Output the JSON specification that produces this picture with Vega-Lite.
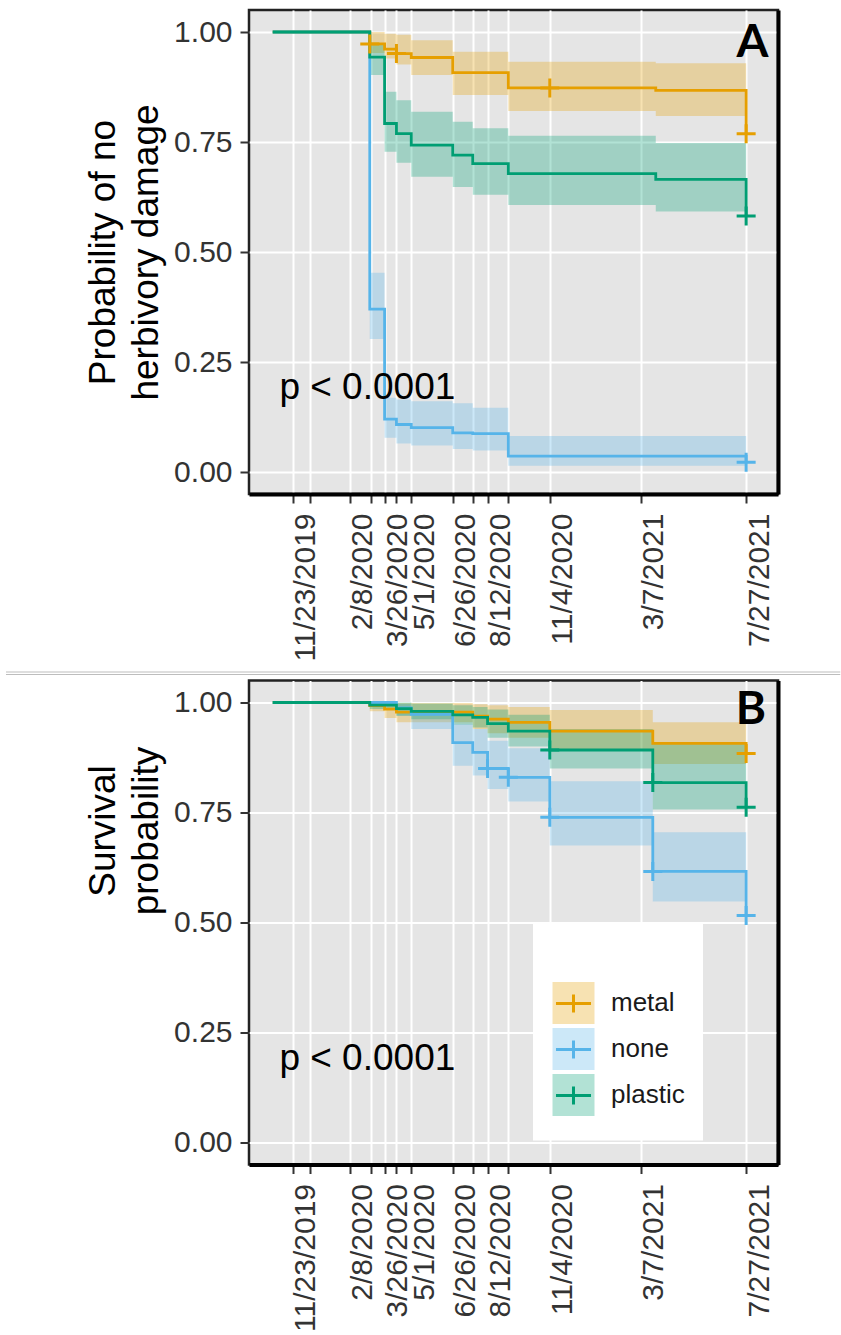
{
  "$schema": "https://vega.github.io/schema/vega-lite/v6.json",
  "background": "white",
  "padding": {"left": 4, "top": 8, "right": 0, "bottom": 0},
  "config": {
    "font": "Liberation Sans",
    "view": {"fill": "#E5E5E5", "stroke": "#222222", "strokeWidth": 2.5},
    "concat": {"spacing": 1.5},
    "axisX": {
      "labelAngle": 270, "labelAlign": "right", "labelBaseline": "middle", "labelOffset": 13,
      "labelFontSize": 30, "labelColor": "#333333", "labelPadding": 10,
      "labelOverlap": false, "labelBound": false, "labelFlush": false,
      "tickSize": 9, "tickWidth": 2, "tickColor": "#333333",
      "domain": true, "domainColor": "#000000", "domainWidth": 4,
      "grid": true, "gridColor": "#FFFFFF", "gridWidth": 2
    },
    "axisY": {
      "labelFontSize": 30, "labelColor": "#333333", "labelPadding": 8,
      "tickSize": 9, "tickWidth": 2, "tickColor": "#333333",
      "domain": false, "grid": true, "gridColor": "#FFFFFF", "gridWidth": 2,
      "titleFontSize": 37, "titleFontWeight": "normal", "titleColor": "#000000", "titlePadding": 8, "titleLineHeight": 43
    }
  },
  "resolve": {"scale": {"fill": "independent", "stroke": "independent"}},
  "datasets": {
    "km": [
      {"panel": "A", "group": "metal", "date": "2019-10-27", "surv": 1, "lower": 1, "upper": 1},
      {"panel": "A", "group": "metal", "date": "2020-03-06", "surv": 0.973, "lower": 0.952, "upper": 1.0},
      {"panel": "A", "group": "metal", "date": "2020-03-26", "surv": 0.961, "lower": 0.94, "upper": 0.996},
      {"panel": "A", "group": "metal", "date": "2020-04-11", "surv": 0.951, "lower": 0.926, "upper": 0.994},
      {"panel": "A", "group": "metal", "date": "2020-05-01", "surv": 0.942, "lower": 0.902, "upper": 0.981},
      {"panel": "A", "group": "metal", "date": "2020-06-26", "surv": 0.9075, "lower": 0.857, "upper": 0.955},
      {"panel": "A", "group": "metal", "date": "2020-09-09", "surv": 0.873, "lower": 0.8205, "upper": 0.9325},
      {"panel": "A", "group": "metal", "date": "2021-03-27", "surv": 0.8675, "lower": 0.809, "upper": 0.929},
      {"panel": "A", "group": "metal", "date": "2021-07-27", "surv": 0.769, "lower": 0.809, "upper": 0.929},
      {"panel": "A", "group": "none", "date": "2019-10-27", "surv": 1, "lower": 1, "upper": 1},
      {"panel": "A", "group": "none", "date": "2020-03-06", "surv": 0.37, "lower": 0.302, "upper": 0.453},
      {"panel": "A", "group": "none", "date": "2020-03-26", "surv": 0.12, "lower": 0.078, "upper": 0.169},
      {"panel": "A", "group": "none", "date": "2020-04-11", "surv": 0.108, "lower": 0.065, "upper": 0.165},
      {"panel": "A", "group": "none", "date": "2020-05-01", "surv": 0.101, "lower": 0.06, "upper": 0.161},
      {"panel": "A", "group": "none", "date": "2020-06-26", "surv": 0.089, "lower": 0.052, "upper": 0.156},
      {"panel": "A", "group": "none", "date": "2020-07-23", "surv": 0.087, "lower": 0.049, "upper": 0.146},
      {"panel": "A", "group": "none", "date": "2020-09-09", "surv": 0.036, "lower": 0.014, "upper": 0.082},
      {"panel": "A", "group": "none", "date": "2021-07-27", "surv": 0.022, "lower": 0.014, "upper": 0.082},
      {"panel": "A", "group": "plastic", "date": "2019-10-27", "surv": 1, "lower": 1, "upper": 1},
      {"panel": "A", "group": "plastic", "date": "2020-03-06", "surv": 0.943, "lower": 0.902, "upper": 0.974},
      {"panel": "A", "group": "plastic", "date": "2020-03-26", "surv": 0.792, "lower": 0.728, "upper": 0.864},
      {"panel": "A", "group": "plastic", "date": "2020-04-11", "surv": 0.769, "lower": 0.703, "upper": 0.845},
      {"panel": "A", "group": "plastic", "date": "2020-05-01", "surv": 0.743, "lower": 0.671, "upper": 0.819},
      {"panel": "A", "group": "plastic", "date": "2020-06-26", "surv": 0.72, "lower": 0.648, "upper": 0.796},
      {"panel": "A", "group": "plastic", "date": "2020-07-23", "surv": 0.701, "lower": 0.63, "upper": 0.781},
      {"panel": "A", "group": "plastic", "date": "2020-09-09", "surv": 0.678, "lower": 0.607, "upper": 0.764},
      {"panel": "A", "group": "plastic", "date": "2021-03-27", "surv": 0.665, "lower": 0.592, "upper": 0.748},
      {"panel": "A", "group": "plastic", "date": "2021-07-27", "surv": 0.582, "lower": 0.592, "upper": 0.748},
      {"panel": "B", "group": "metal", "date": "2019-10-27", "surv": 1, "lower": 1, "upper": 1},
      {"panel": "B", "group": "metal", "date": "2020-03-06", "surv": 0.993, "lower": 0.98, "upper": 1.0},
      {"panel": "B", "group": "metal", "date": "2020-03-26", "surv": 0.985, "lower": 0.965, "upper": 1.0},
      {"panel": "B", "group": "metal", "date": "2020-04-11", "surv": 0.978, "lower": 0.955, "upper": 0.999},
      {"panel": "B", "group": "metal", "date": "2020-07-23", "surv": 0.969, "lower": 0.94, "upper": 0.996},
      {"panel": "B", "group": "metal", "date": "2020-08-12", "surv": 0.962, "lower": 0.93, "upper": 0.994},
      {"panel": "B", "group": "metal", "date": "2020-09-09", "surv": 0.955, "lower": 0.92, "upper": 0.99},
      {"panel": "B", "group": "metal", "date": "2020-11-04", "surv": 0.935, "lower": 0.89, "upper": 0.983},
      {"panel": "B", "group": "metal", "date": "2021-03-23", "surv": 0.907, "lower": 0.86, "upper": 0.955},
      {"panel": "B", "group": "metal", "date": "2021-07-27", "surv": 0.884, "lower": 0.86, "upper": 0.955},
      {"panel": "B", "group": "none", "date": "2019-10-27", "surv": 1, "lower": 1, "upper": 1},
      {"panel": "B", "group": "none", "date": "2020-04-11", "surv": 0.988, "lower": 0.97, "upper": 0.997},
      {"panel": "B", "group": "none", "date": "2020-05-01", "surv": 0.973, "lower": 0.94, "upper": 0.981},
      {"panel": "B", "group": "none", "date": "2020-06-26", "surv": 0.909, "lower": 0.856, "upper": 0.951},
      {"panel": "B", "group": "none", "date": "2020-07-23", "surv": 0.8865, "lower": 0.834, "upper": 0.94},
      {"panel": "B", "group": "none", "date": "2020-08-12", "surv": 0.85, "lower": 0.8035, "upper": 0.913},
      {"panel": "B", "group": "none", "date": "2020-09-09", "surv": 0.83, "lower": 0.775, "upper": 0.896},
      {"panel": "B", "group": "none", "date": "2020-11-04", "surv": 0.739, "lower": 0.675, "upper": 0.821},
      {"panel": "B", "group": "none", "date": "2021-03-23", "surv": 0.616, "lower": 0.548, "upper": 0.705},
      {"panel": "B", "group": "none", "date": "2021-07-27", "surv": 0.516, "lower": 0.548, "upper": 0.705},
      {"panel": "B", "group": "plastic", "date": "2019-10-27", "surv": 1, "lower": 1, "upper": 1},
      {"panel": "B", "group": "plastic", "date": "2020-03-06", "surv": 0.994, "lower": 0.985, "upper": 1.0},
      {"panel": "B", "group": "plastic", "date": "2020-04-11", "surv": 0.986, "lower": 0.97, "upper": 1.0},
      {"panel": "B", "group": "plastic", "date": "2020-05-01", "surv": 0.98, "lower": 0.962, "upper": 0.998},
      {"panel": "B", "group": "plastic", "date": "2020-06-26", "surv": 0.972, "lower": 0.95, "upper": 0.994},
      {"panel": "B", "group": "plastic", "date": "2020-07-23", "surv": 0.966, "lower": 0.943, "upper": 0.99},
      {"panel": "B", "group": "plastic", "date": "2020-08-12", "surv": 0.952, "lower": 0.92, "upper": 0.984},
      {"panel": "B", "group": "plastic", "date": "2020-09-09", "surv": 0.935, "lower": 0.9, "upper": 0.972},
      {"panel": "B", "group": "plastic", "date": "2020-11-04", "surv": 0.892, "lower": 0.85, "upper": 0.94},
      {"panel": "B", "group": "plastic", "date": "2021-03-23", "surv": 0.818, "lower": 0.757, "upper": 0.906},
      {"panel": "B", "group": "plastic", "date": "2021-07-27", "surv": 0.762, "lower": 0.757, "upper": 0.906}
    ],
    "censored": [
      {"panel": "A", "group": "metal", "date": "2020-03-06", "surv": 0.973},
      {"panel": "A", "group": "metal", "date": "2020-04-11", "surv": 0.951},
      {"panel": "A", "group": "metal", "date": "2020-11-04", "surv": 0.873},
      {"panel": "A", "group": "metal", "date": "2021-07-27", "surv": 0.769},
      {"panel": "A", "group": "none", "date": "2021-07-27", "surv": 0.022},
      {"panel": "A", "group": "plastic", "date": "2021-07-27", "surv": 0.582},
      {"panel": "B", "group": "metal", "date": "2021-07-27", "surv": 0.884},
      {"panel": "B", "group": "none", "date": "2020-08-12", "surv": 0.85},
      {"panel": "B", "group": "none", "date": "2020-09-09", "surv": 0.83},
      {"panel": "B", "group": "none", "date": "2020-11-04", "surv": 0.739},
      {"panel": "B", "group": "none", "date": "2021-03-23", "surv": 0.616},
      {"panel": "B", "group": "none", "date": "2021-07-27", "surv": 0.516},
      {"panel": "B", "group": "plastic", "date": "2020-11-04", "surv": 0.892},
      {"panel": "B", "group": "plastic", "date": "2021-03-23", "surv": 0.818},
      {"panel": "B", "group": "plastic", "date": "2021-07-27", "surv": 0.762}
    ]
  },
  "vconcat": [
    {
      "width": 529,
      "height": 484,
      "resolve": {"axis": {"y": "independent"}},
      "layer": [
        {
          "data": {"name": "km"},
          "transform": [{"filter": "datum.panel === 'A'"}],
          "mark": {"type": "area", "interpolate": "step-after", "fillOpacity": 0.3},
          "encoding": {
            "x": {
              "field": "date", "type": "temporal",
              "scale": {"type": "utc", "nice": false, "domain": [{"year": 2019, "month": 9, "date": 25, "utc": true}, {"year": 2021, "month": 9, "date": 8, "utc": true}]},
              "axis": {
                "title": null,
                "values": [
                  {"year": 2019, "month": 11, "date": 23, "utc": true}, {"year": 2019, "month": 12, "date": 17, "utc": true},
                  {"year": 2020, "month": 2, "date": 8, "utc": true}, {"year": 2020, "month": 3, "date": 7, "utc": true},
                  {"year": 2020, "month": 3, "date": 26, "utc": true}, {"year": 2020, "month": 4, "date": 11, "utc": true},
                  {"year": 2020, "month": 5, "date": 1, "utc": true}, {"year": 2020, "month": 6, "date": 26, "utc": true},
                  {"year": 2020, "month": 7, "date": 23, "utc": true}, {"year": 2020, "month": 8, "date": 12, "utc": true},
                  {"year": 2020, "month": 9, "date": 9, "utc": true}, {"year": 2020, "month": 11, "date": 4, "utc": true},
                  {"year": 2021, "month": 3, "date": 7, "utc": true}, {"year": 2021, "month": 7, "date": 27, "utc": true}
                ],
                "labelExpr": "indexof(['20191123','20200208','20200326','20200501','20200626','20200812','20201104','20210307','20210727'], utcFormat(datum.value, '%Y%m%d')) >= 0 ? utcFormat(datum.value, '%-m/%-d/%Y') : ''"
              }
            },
            "y": {
              "field": "lower", "type": "quantitative",
              "scale": {"domain": [-0.05, 1.05], "nice": false, "zero": false},
              "axis": {"title": ["Probability of no", "herbivory damage"], "values": [0, 0.25, 0.5, 0.75, 1], "format": ".2f"}
            },
            "y2": {"field": "upper"},
            "fill": {"field": "group", "type": "nominal", "scale": {"range": ["#E69F00", "#56B4E9", "#009E73"]}, "legend": null}
          }
        },
        {
          "data": {"name": "km"},
          "transform": [{"filter": "datum.panel === 'A'"}],
          "mark": {"type": "line", "interpolate": "step-after", "strokeWidth": 2.8},
          "encoding": {
            "x": {"field": "date", "type": "temporal"},
            "y": {"field": "surv", "type": "quantitative", "scale": {"domain": [-0.05, 1.05], "nice": false, "zero": false},
                  "axis": {"orient": "right", "labels": false, "ticks": false, "grid": false, "title": null, "domain": true, "domainColor": "#000000", "domainWidth": 4}},
            "stroke": {"field": "group", "type": "nominal", "scale": {"domain": ["metal", "none", "plastic"], "range": ["#E69F00", "#56B4E9", "#009E73"]}, "legend": null}
          }
        },
        {
          "data": {"name": "censored"},
          "transform": [{"filter": "datum.panel === 'A'"}],
          "mark": {"type": "point", "shape": "M-1,0H1M0,-1V1", "size": 361, "strokeWidth": 3, "filled": false, "opacity": 1},
          "encoding": {
            "x": {"field": "date", "type": "temporal"},
            "y": {"field": "surv", "type": "quantitative", "axis": null},
            "stroke": {"field": "group", "type": "nominal", "legend": null}
          }
        },
        {
          "data": {"values": [{}]},
          "mark": {"type": "text", "align": "left", "baseline": "alphabetic", "fontSize": 37, "color": "#000000"},
          "encoding": {
            "x": {"datum": {"year": 2019, "month": 11, "date": 5, "utc": true}, "type": "temporal"},
            "y": {"datum": 0.165, "type": "quantitative", "axis": null},
            "text": {"value": "p < 0.0001"}
          }
        },
        {
          "data": {"values": [{}]},
          "mark": {"type": "text", "align": "right", "baseline": "alphabetic", "fontSize": 46, "font": "Lato", "fontWeight": "bold", "color": "#000000"},
          "encoding": {
            "x": {"datum": {"year": 2021, "month": 8, "date": 26, "utc": true}, "type": "temporal"},
            "y": {"datum": 0.943, "type": "quantitative", "axis": null},
            "text": {"value": "A"}
          }
        },
        {
          "data": {"values": [{}]},
          "mark": {"type": "rule", "color": "#BDBDBD", "strokeWidth": 1.2},
          "encoding": {
            "x": {"datum": {"year": 2018, "month": 11, "date": 1, "utc": true}, "type": "temporal"},
            "x2": {"datum": {"year": 2021, "month": 12, "date": 1, "utc": true}},
            "y": {"datum": -0.4545, "type": "quantitative", "axis": null}
          }
        },
        {
          "data": {"values": [{}]},
          "mark": {"type": "rule", "color": "#BDBDBD", "strokeWidth": 1.2},
          "encoding": {
            "x": {"datum": {"year": 2018, "month": 11, "date": 1, "utc": true}, "type": "temporal"},
            "x2": {"datum": {"year": 2021, "month": 12, "date": 1, "utc": true}},
            "y": {"datum": -0.4602, "type": "quantitative", "axis": null}
          }
        }
      ]
    },
    {
      "width": 529,
      "height": 484,
      "resolve": {"axis": {"y": "independent"}},
      "layer": [
        {
          "data": {"name": "km"},
          "transform": [{"filter": "datum.panel === 'B'"}],
          "mark": {"type": "area", "interpolate": "step-after", "fillOpacity": 0.3},
          "encoding": {
            "x": {
              "field": "date", "type": "temporal",
              "scale": {"type": "utc", "nice": false, "domain": [{"year": 2019, "month": 9, "date": 25, "utc": true}, {"year": 2021, "month": 9, "date": 8, "utc": true}]},
              "axis": {
                "title": null,
                "values": [
                  {"year": 2019, "month": 11, "date": 23, "utc": true}, {"year": 2019, "month": 12, "date": 17, "utc": true},
                  {"year": 2020, "month": 2, "date": 8, "utc": true}, {"year": 2020, "month": 3, "date": 7, "utc": true},
                  {"year": 2020, "month": 3, "date": 26, "utc": true}, {"year": 2020, "month": 4, "date": 11, "utc": true},
                  {"year": 2020, "month": 5, "date": 1, "utc": true}, {"year": 2020, "month": 6, "date": 26, "utc": true},
                  {"year": 2020, "month": 7, "date": 23, "utc": true}, {"year": 2020, "month": 8, "date": 12, "utc": true},
                  {"year": 2020, "month": 9, "date": 9, "utc": true}, {"year": 2020, "month": 11, "date": 4, "utc": true},
                  {"year": 2021, "month": 3, "date": 7, "utc": true}, {"year": 2021, "month": 7, "date": 27, "utc": true}
                ],
                "labelExpr": "indexof(['20191123','20200208','20200326','20200501','20200626','20200812','20201104','20210307','20210727'], utcFormat(datum.value, '%Y%m%d')) >= 0 ? utcFormat(datum.value, '%-m/%-d/%Y') : ''"
              }
            },
            "y": {
              "field": "lower", "type": "quantitative",
              "scale": {"domain": [-0.05, 1.05], "nice": false, "zero": false},
              "axis": {"title": ["Survival", "probability"], "titleY": 150, "values": [0, 0.25, 0.5, 0.75, 1], "format": ".2f"}
            },
            "y2": {"field": "upper"},
            "fill": {
              "field": "group", "type": "nominal",
              "scale": {"range": ["#E69F00", "#56B4E9", "#009E73"]},
              "legend": {
                "orient": "none", "legendX": 284, "legendY": 243,
                "title": " ", "titleFontSize": 24, "titlePadding": 19,
                "padding": 18, "fillColor": "#FFFFFF",
                "symbolType": "M-1.235,-1.235H1.235V1.235H-1.235Z", "symbolSize": 1156, "symbolStrokeWidth": 3, "symbolStrokeColor": "transparent", "symbolOffset": 4,
                "labelFontSize": 26, "labelColor": "#1A1A1A", "labelOffset": 19, "rowPadding": -20,
                "encode": {"symbols": {"update": {"fillOpacity": {"value": 0.3}, "opacity": {"value": 1}, "strokeWidth": {"value": 3}, "stroke": {"value": "transparent"}}}}
              }
            }
          }
        },
        {
          "data": {"name": "km"},
          "transform": [{"filter": "datum.panel === 'B'"}],
          "mark": {"type": "line", "interpolate": "step-after", "strokeWidth": 2.8},
          "encoding": {
            "x": {"field": "date", "type": "temporal"},
            "y": {"field": "surv", "type": "quantitative", "scale": {"domain": [-0.05, 1.05], "nice": false, "zero": false},
                  "axis": {"orient": "right", "labels": false, "ticks": false, "grid": false, "title": null, "domain": true, "domainColor": "#000000", "domainWidth": 4}},
            "stroke": {
              "field": "group", "type": "nominal",
              "scale": {"domain": ["metal", "none", "plastic"], "range": ["#E69F00", "#56B4E9", "#009E73"]},
              "legend": {
                "orient": "none", "legendX": 284, "legendY": 286.5,
                "title": null,
                "padding": 18,
                "symbolType": "M-1.235,-1.235M1.235,1.235M-1.03,0H1.03M0,-0.53V0.53", "symbolSize": 1156, "symbolStrokeWidth": 3, "symbolOffset": 4,
                "labelFontSize": 26, "labelExpr": "''", "labelOffset": 19, "rowPadding": -20,
                "encode": {"symbols": {"update": {"fill": {"value": "transparent"}, "opacity": {"value": 1}, "strokeWidth": {"value": 3}}}}
              }
            }
          }
        },
        {
          "data": {"name": "censored"},
          "transform": [{"filter": "datum.panel === 'B'"}],
          "mark": {"type": "point", "shape": "M-1,0H1M0,-1V1", "size": 361, "strokeWidth": 3, "filled": false, "opacity": 1},
          "encoding": {
            "x": {"field": "date", "type": "temporal"},
            "y": {"field": "surv", "type": "quantitative", "axis": null},
            "stroke": {"field": "group", "type": "nominal"}
          }
        },
        {
          "data": {"values": [{}]},
          "mark": {"type": "text", "align": "left", "baseline": "alphabetic", "fontSize": 37, "color": "#000000"},
          "encoding": {
            "x": {"datum": {"year": 2019, "month": 11, "date": 5, "utc": true}, "type": "temporal"},
            "y": {"datum": 0.165, "type": "quantitative", "axis": null},
            "text": {"value": "p < 0.0001"}
          }
        },
        {
          "data": {"values": [{}]},
          "mark": {"type": "text", "align": "right", "baseline": "alphabetic", "fontSize": 46, "font": "Lato", "fontWeight": "bold", "color": "#000000"},
          "encoding": {
            "x": {"datum": {"year": 2021, "month": 8, "date": 23, "utc": true}, "type": "temporal"},
            "y": {"datum": 0.952, "type": "quantitative", "axis": null},
            "text": {"value": "B"}
          }
        }
      ]
    }
  ]
}
